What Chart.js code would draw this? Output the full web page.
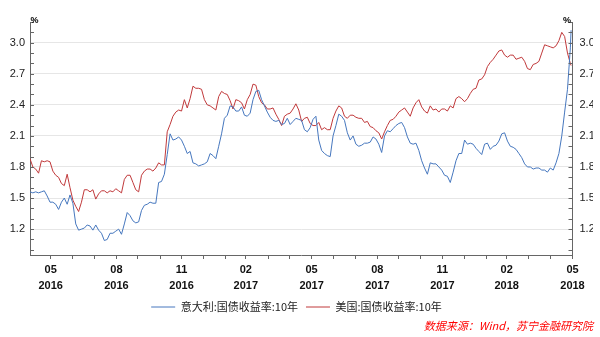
<!DOCTYPE html>
<html><head><meta charset="utf-8">
<script src="https://cdn.jsdelivr.net/npm/chart.js@4.4.0/dist/chart.umd.min.js"></script>
<style>html,body{margin:0;padding:0;background:#fff;overflow:hidden}canvas{display:block}</style>
</head><body>
<canvas id="c" width="600" height="337"></canvas>
<script>
// ---- data ----
const startDate = Date.UTC(2016, 4, 2);     // first trading day shown (2016-05-02)
const axisEndOffset = 759;                   // 2018-05-31
const dayOffsets = [0,4,8,12,16,20,24,28,32,36,40,44,48,52,56,60,64,68,72,76,80,84,88,92,96,100,104,108,112,116,120,124,128,132,136,140,144,148,152,156,160,164,168,172,176,180,184,188,192,196,200,204,208,212,216,220,224,228,232,236,240,244,248,252,256,260,264,268,272,276,280,284,288,292,296,300,304,308,312,316,320,324,328,332,336,340,344,348,352,356,360,364,368,372,376,380,384,388,392,396,400,404,408,412,416,420,424,428,432,436,440,444,448,452,456,460,464,468,472,476,480,484,488,492,496,500,504,508,512,516,520,524,528,532,536,540,544,548,552,556,560,564,568,572,576,580,584,588,592,596,600,604,608,612,616,620,624,628,632,636,640,644,648,652,656,660,664,668,672,676,680,684,688,692,696,700,704,708,712,716,720,724,728,732,736,740,744,748,752,756,757];
const italy10y = [1.56,1.55,1.56,1.55,1.56,1.57,1.52,1.46,1.46,1.44,
1.39,1.46,1.50,1.44,1.53,1.45,1.25,1.19,1.20,1.21,
1.24,1.23,1.19,1.24,1.19,1.16,1.09,1.10,1.16,1.16,
1.18,1.20,1.15,1.25,1.36,1.33,1.28,1.26,1.27,1.38,
1.43,1.44,1.46,1.45,1.45,1.65,1.66,1.73,1.92,2.12,
2.06,2.07,2.09,2.06,2.00,1.93,1.95,1.84,1.83,1.81,
1.82,1.83,1.85,1.93,1.91,1.88,2.00,2.12,2.27,2.30,
2.39,2.38,2.34,2.34,2.38,2.30,2.29,2.32,2.45,2.53,
2.54,2.45,2.39,2.33,2.28,2.25,2.24,2.25,2.21,2.22,
2.27,2.21,2.24,2.27,2.26,2.25,2.16,2.14,2.18,2.26,
2.29,2.06,1.96,1.93,1.91,1.90,2.10,2.20,2.31,2.29,
2.25,2.13,2.06,2.10,2.02,2.00,2.01,2.03,2.03,2.04,
2.09,2.07,2.02,1.94,2.10,2.15,2.14,2.17,2.20,2.22,
2.23,2.18,2.09,2.03,2.02,2.03,1.96,1.86,1.79,1.73,
1.84,1.83,1.83,1.80,1.77,1.72,1.71,1.65,1.75,1.86,
1.93,1.93,2.06,2.02,2.03,2.02,1.98,1.95,1.92,2.02,
2.03,1.97,2.00,2.01,2.05,2.12,2.13,2.05,2.00,1.99,
1.97,1.93,1.89,1.83,1.80,1.80,1.78,1.79,1.79,1.77,
1.77,1.75,1.79,1.77,1.84,1.93,2.10,2.33,2.55,2.95,
3.12];
const us10y = [1.88,1.80,1.78,1.74,1.86,1.85,1.86,1.85,1.76,1.72,
1.70,1.64,1.62,1.73,1.60,1.48,1.42,1.37,1.46,1.58,
1.58,1.56,1.58,1.49,1.54,1.57,1.57,1.55,1.57,1.56,
1.59,1.57,1.55,1.68,1.72,1.72,1.65,1.58,1.56,1.72,
1.76,1.78,1.78,1.76,1.79,1.84,1.82,1.82,2.14,2.21,
2.29,2.33,2.35,2.34,2.45,2.37,2.46,2.58,2.56,2.56,
2.55,2.45,2.40,2.39,2.37,2.35,2.48,2.53,2.51,2.50,
2.44,2.36,2.45,2.44,2.42,2.36,2.45,2.50,2.60,2.59,
2.48,2.42,2.40,2.36,2.36,2.37,2.31,2.26,2.20,2.29,
2.31,2.32,2.36,2.41,2.35,2.24,2.27,2.28,2.22,2.20,
2.20,2.23,2.16,2.18,2.16,2.16,2.27,2.34,2.39,2.37,
2.29,2.27,2.30,2.30,2.28,2.27,2.27,2.23,2.24,2.19,
2.18,2.15,2.13,2.07,2.14,2.20,2.25,2.26,2.29,2.33,
2.35,2.37,2.33,2.29,2.37,2.42,2.45,2.38,2.34,2.32,
2.39,2.35,2.36,2.33,2.36,2.36,2.34,2.39,2.37,2.46,
2.48,2.46,2.43,2.46,2.51,2.55,2.56,2.64,2.65,2.69,
2.77,2.81,2.84,2.88,2.92,2.93,2.88,2.86,2.88,2.88,
2.84,2.85,2.86,2.82,2.75,2.74,2.79,2.80,2.82,2.90,
2.98,2.97,2.96,2.95,2.97,3.02,3.10,3.06,2.90,2.80,
2.78];
const seriesNames = ['意大利:国债收益率:10年', '美国:国债收益率:10年'];
const yTickLabels = [1.2, 1.5, 1.8, 2.1, 2.4, 2.7, 3.0];
const yMinorStep = 0.1;
const xLabelMonths = [2, 5, 8, 11];
const unitLabel = '%';
const sourceText = '数据来源：Wind，苏宁金融研究院';

// ---- derived tick positions ----
const monthEnds = [];
for (let k = 0; k < 25; k++) {
  const d = new Date(Date.UTC(2016, 4 + k + 1, 0));
  monthEnds.push({
    value: Math.round((d.getTime() - startDate) / 864e5),
    month: d.getUTCMonth() + 1,
    year: d.getUTCFullYear()
  });
}
const yMinor = [];
for (let v = 1.0; v <= 3.2001; v += yMinorStep) yMinor.push(Math.round(v * 10) / 10);
const isMajorY = v => yTickLabels.some(t => Math.abs(t - v) < 1e-6);

const toPoints = arr => arr.map((v, i) => ({x: dayOffsets[i], y: v}));

const AXIS = '#666';
const decor = {
  id: 'decor',
  afterDraw(chart) {
    const ctx = chart.ctx, a = chart.chartArea;
    ctx.save();
    ctx.strokeStyle = AXIS; ctx.lineWidth = 1;
    ['y', 'y2'].forEach(id => {
      const s = chart.scales[id];
      s.ticks.forEach(t => {
        const yy = Math.round(s.getPixelForValue(t.value)) + 0.5;
        ctx.beginPath();
        if (id === 'y') { ctx.moveTo(a.left, yy); ctx.lineTo(a.left + 4, yy); }
        else { ctx.moveTo(a.right - 4, yy); ctx.lineTo(a.right, yy); }
        ctx.stroke();
      });
    });
    ctx.fillStyle = '#000';
    ctx.font = 'bold 9px "Liberation Sans", Arial, sans-serif';
    ctx.textAlign = 'center'; ctx.textBaseline = 'middle';
    ctx.fillText(unitLabel, a.left + 4.5, a.top - 1);
    ctx.fillText(unitLabel, a.right - 5.5, a.top - 1);
    ctx.fillStyle = '#ff0000';
    ctx.font = 'italic 11px "Noto Sans CJK SC", sans-serif';
    ctx.textAlign = 'right';
    ctx.fillText(sourceText, chart.width - 7, 326);
    ctx.restore();
  }
};

const yScale = (pos) => ({
  type: 'linear', position: pos, min: 0.95, max: 3.2,
  display: true,
  afterBuildTicks: s => { s.ticks = yMinor.map(v => ({value: v})); },
  afterFit: s => { s.width = pos === 'left' ? 30 : 20.5; },
  border: {display: true, color: AXIS, width: 1},
  grid: {
    drawTicks: false,
    drawOnChartArea: pos === 'left',
    color: c => (c.tick && isMajorY(c.tick.value)) ? '#e6e6e6' : 'rgba(0,0,0,0)',
    lineWidth: 1
  },
  ticks: {
    padding: pos === 'left' ? 5 : 7,
    color: '#222',
    font: {family: '"Liberation Sans", Arial, sans-serif', size: 11},
    autoSkip: false,
    callback: v => isMajorY(v) ? v.toFixed(1) : ''
  }
});

new Chart(document.getElementById('c'), {
  type: 'line',
  data: {
    datasets: [
      {label: seriesNames[0], data: toPoints(italy10y), borderColor: '#4677be', backgroundColor: '#4677be', borderWidth: 1, pointRadius: 0, tension: 0, yAxisID: 'y'},
      {label: seriesNames[1], data: toPoints(us10y), borderColor: '#c0393b', backgroundColor: '#c0393b', borderWidth: 1, pointRadius: 0, tension: 0, yAxisID: 'y'}
    ]
  },
  options: {
    responsive: false, animation: false, events: [],
    layout: {padding: {top: 22, right: 7, left: 0, bottom: 14.5}},
    scales: {
      x: {
        type: 'linear', min: 0, max: axisEndOffset,
        afterBuildTicks: s => { s.ticks = monthEnds.map(m => ({value: m.value})); },
        afterFit: s => { s.height = 38.5; },
        border: {display: true, color: AXIS, width: 1},
        grid: {drawOnChartArea: false, drawTicks: true, tickLength: 4, tickColor: AXIS},
        ticks: {
          autoSkip: false, maxRotation: 0, minRotation: 0, padding: 3,
          color: '#111',
          font: {family: '"Liberation Sans", Arial, sans-serif', size: 11, weight: 'bold', lineHeight: 1.45},
          callback: (v) => {
            const m = monthEnds.find(e => e.value === v);
            if (!m || !xLabelMonths.includes(m.month)) return '';
            return [String(m.month).padStart(2, '0'), String(m.year)];
          }
        }
      },
      y: yScale('left'),
      y2: yScale('right')
    },
    plugins: {
      legend: {
        display: true, position: 'bottom',
        labels: {
          usePointStyle: true, pointStyle: 'line', pointStyleWidth: 24,
          padding: 8, color: '#222',
          font: {family: '"Noto Sans CJK SC", sans-serif', size: 11}
        }
      },
      tooltip: {enabled: false},
      title: {display: false}
    }
  },
  plugins: [decor]
});
</script>
</body></html>
